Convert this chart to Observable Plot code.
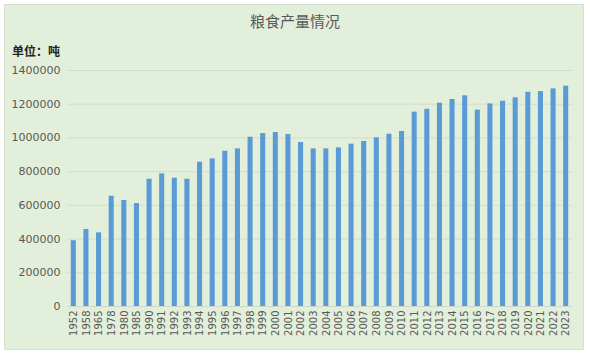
<!DOCTYPE html>
<html><head><meta charset="utf-8">
<script src="https://cdn.jsdelivr.net/npm/d3@7"></script>
<script src="https://cdn.jsdelivr.net/npm/@observablehq/plot@0.6"></script>
<style>
html,body{margin:0;padding:0;background:#fff;}
#wrap{position:relative;width:590px;height:357px;overflow:hidden;font-family:"Noto Sans CJK SC","Noto Sans",sans-serif;}
#panel{position:absolute;left:4px;top:4px;width:580px;height:346px;background:#e2efda;border:1px solid #d6dfd0;box-sizing:border-box;}
#title{position:absolute;left:0;width:590px;top:10px;text-align:center;font-size:15px;color:#595959;}
#unit{position:absolute;left:12px;top:42px;font-size:12px;font-weight:bold;color:#222;}
#chart{position:absolute;left:0;top:0;}
</style></head>
<body>
<div id="wrap">
<div id="panel"></div>
<div id="title">粮食产量情况</div>
<div id="unit">单位：吨</div>
<div id="chart"></div>
</div>
<script>
const years = ["1952","1958","1965","1978","1980","1985","1990","1991","1992","1993","1994","1995","1996","1997","1998","1999","2000","2001","2002","2003","2004","2005","2006","2007","2008","2009","2010","2011","2012","2013","2014","2015","2016","2017","2018","2019","2020","2021","2022","2023"];
const output = [390000,457000,437000,654000,629000,611000,755000,787000,761000,755000,856000,876000,921000,935000,1004000,1026000,1032000,1020000,973000,935000,935000,941000,963000,979000,1001000,1022000,1038000,1153000,1170000,1206000,1228000,1250000,1165000,1202000,1218000,1238000,1271000,1275000,1291000,1307000];
const yTicks = [0,200000,400000,600000,800000,1000000,1200000,1400000];
const data = years.map((y,i)=>({year:y, value:output[i]}));
const chart = Plot.plot({
  width:590, height:357,
  marginLeft:67, marginRight:18, marginTop:70, marginBottom:51,
  style:{background:"transparent", fontFamily:"'DejaVu Sans', sans-serif", color:"#595959"},
  x:{domain:years, paddingInner:0.6, paddingOuter:0.3, round:false, label:null, tickSize:0, tickPadding:4, tickRotate:-90},
  y:{domain:[0,1400000], ticks:yTicks, label:null, tickSize:0, tickPadding:7, tickFormat:d=>String(d)},
  marks:[
    Plot.gridY(yTicks.filter(d=>d>0), {stroke:"#d4dccf", strokeOpacity:1}),
    Plot.ruleY([0], {stroke:"#d0d6cc"}),
    Plot.barY(data, {x:"year", y:"value", fill:"#5b9bd5"}),
    Plot.axisY({ticks:yTicks, tickSize:0, tickPadding:7, tickFormat:d=>String(d), fontSize:11, label:null}),
    Plot.axisX({tickSize:0, tickPadding:4, tickRotate:-90, fontSize:10, label:null})
  ]
});
document.getElementById("chart").appendChild(chart);
</script>
</body></html>
